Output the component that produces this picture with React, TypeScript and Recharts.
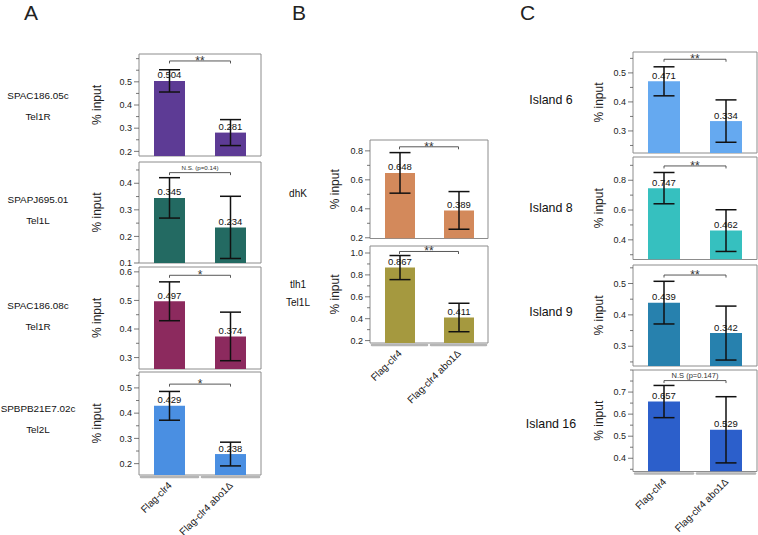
import React from "react";
import {
  BarChart,
  Bar,
  XAxis,
  YAxis,
  ErrorBar,
  LabelList,
  ReferenceLine,
  ReferenceArea,
} from "recharts";

const FONT = '"Liberation Sans", Arial, Helvetica, sans-serif';

const strains = ["Flag-clr4", "Flag-clr4 abo1Δ"];

// panel A - subtelomeric loci
const lociA = [["SPAC186.05c", "Tel1R"], ["SPAPJ695.01", "Tel1L"], ["SPAC186.08c", "Tel1R"], ["SPBPB21E7.02c", "Tel2L"]];
const meansA = [[0.504, 0.281], [0.345, 0.234], [0.497, 0.374], [0.429, 0.238]];
const errsA = [[0.048, 0.056], [0.076, 0.117], [0.068, 0.085], [0.057, 0.047]];
const sigA = ["**", "N.S. (p=0.14)", "*", "*"];
const levelsA = [0.59, 0.44, 0.588, 0.515];
const colorsA = ["#5d3b95", "#236a62", "#8c2a5e", "#4a8fe2"];
const domainsA = [[0.18, 0.62], [0.1, 0.48], [0.26, 0.617], [0.155, 0.563]];
const ticksA = [[0.2, 0.3, 0.4, 0.5], [0.1, 0.2, 0.3, 0.4], [0.3, 0.4, 0.5, 0.6], [0.2, 0.3, 0.4, 0.5]];

// panel B
const lociB = [["dhK"], ["tlh1", "Tel1L"]];
const meansB = [[0.648, 0.389], [0.867, 0.411]];
const errsB = [[0.14, 0.13], [0.11, 0.13]];
const sigB = ["**", "**"];
const levelsB = [0.828, 1.014];
const colorsB = ["#d3895b", "#a5993f"];
const domainsB = [[0.195, 0.875], [0.178, 1.064]];
const ticksB = [[0.2, 0.4, 0.6, 0.8], [0.2, 0.4, 0.6, 0.8, 1.0]];

// panel C - heterochromatin islands
const lociC = [["Island 6"], ["Island 8"], ["Island 9"], ["Island 16"]];
const meansC = [[0.471, 0.334], [0.747, 0.462], [0.439, 0.342], [0.657, 0.529]];
const errsC = [[0.05, 0.073], [0.105, 0.14], [0.068, 0.086], [0.073, 0.15]];
const sigC = ["**", "**", "**", "N.S (p=0.147)"];
const levelsC = [0.547, 0.896, 0.527, 0.752];
const colorsC = ["#65a9f0", "#36c0bf", "#2781ae", "#2c5fcb"];
const domainsC = [[0.224, 0.572], [0.268, 0.956], [0.237, 0.559], [0.34, 0.8]];
const ticksC = [[0.3, 0.4, 0.5], [0.4, 0.6, 0.8], [0.3, 0.4, 0.5], [0.4, 0.5, 0.6, 0.7]];

type Panel = {
  left: number;
  yW: number;
  plotW: number;
  tops: number[];
  heights: number[];
  labelX: number;
  titleX: number;
  rowFont: number;
  pairDy: number[];
  singleDy: number;
  rowShift: number[];
  barSize: number;
  sigFont: number;
  xH: number;
};

const panelA: Panel = { left: 0, yW: 139, plotW: 122, tops: [54, 162, 267, 372], heights: [102, 101, 102, 103], labelX: 38, titleX: 96.5, rowFont: 9.9, pairDy: [-10.5, 10.5], singleDy: 0, rowShift: [1, -2.5, -2, -4.5], barSize: 31, sigFont: 6.2, xH: 60 };
const panelB: Panel = { left: 280, yW: 90, plotW: 118, tops: [139.5, 245.5], heights: [98.5, 97], labelX: 18, titleX: 55, rowFont: 10, pairDy: [-10.5, 8], singleDy: 4, rowShift: [0, 0], barSize: 30, sigFont: 6.5, xH: 70 };
const panelC: Panel = { left: 520, yW: 113, plotW: 124, tops: [52, 157, 265, 370], heights: [101, 102.5, 101, 101.5], labelX: 31, titleX: 79, rowFont: 12.4, pairDy: [-10, 10], singleDy: 0, rowShift: [-3, 0, -4, 3], barSize: 32, sigFont: 7.5, xH: 62 };

function minorTicks(majors: number[], domain: number[]) {
  const step = majors.length > 1 ? majors[1] - majors[0] : 0.1;
  const out: number[] = [];
  for (let v = majors[0] - step * 2; v <= domain[1] + 1e-9; v += step / 2) {
    const r = Math.round(v * 1000) / 1000;
    if (r >= domain[0] - 1e-9 && r <= domain[1] + 1e-9) out.push(r);
  }
  return out;
}

const yTick = (majors: number[]) => (props: any) => {
  const { x, y, payload } = props;
  const v = payload.value;
  const major = majors.some((m) => Math.abs(m - v) < 1e-6);
  return (
    <g>
      <line x1={x - (major ? 5 : 3)} x2={x} y1={y} y2={y} stroke="#555" strokeWidth={0.8} />
      {major && (
        <text x={x - 7} y={y} dy="0.35em" textAnchor="end" fontSize={9} fill="#222" fontFamily={FONT}>
          {v.toFixed(1)}
        </text>
      )}
    </g>
  );
};

const strainTick = (bw: number) => (props: any) => {
  const { x, y, payload } = props;
  const tx = x + 3;
  const ty = y + 11;
  return (
    <g>
      <line x1={x - bw / 2 + 2} x2={x + bw / 2 - 2} y1={y + 2} y2={y + 2} stroke="#b5b5b5" strokeWidth={2.5} strokeLinecap="round" />
      <text x={tx} y={ty} transform={`rotate(-45 ${tx} ${ty})`} textAnchor="end" fontSize={10} fill="#222" fontFamily={FONT}>
        {payload.value}
      </text>
    </g>
  );
};

const sideTitle = (p: Panel, lines: string[], shift: number) => (props: any) => {
  const vb = props.viewBox || {};
  const cy = vb.y + vb.height / 2;
  const tx = vb.x + p.titleX;
  const dys = lines.length > 1 ? p.pairDy : [p.singleDy];
  return (
    <g fontFamily={FONT}>
      <text x={tx} y={cy} transform={`rotate(-90 ${tx} ${cy})`} textAnchor="middle" dominantBaseline="central" fontSize={12} fill="#222">
        % input
      </text>
      {lines.map((t, i) => (
        <text key={t} x={vb.x + p.labelX} y={cy + shift + dys[i]} textAnchor="middle" dominantBaseline="central" fontSize={p.rowFont} fill="#111">
          {t}
        </text>
      ))}
    </g>
  );
};

const bracket = (sig: string, small: number) => (props: any) => {
  const { x1, x2, y1 } = props;
  const stars = sig.startsWith("*");
  return (
    <g>
      <path d={`M${x1},${y1 + 2.5}V${y1}H${x2}V${y1 + 2.5}`} fill="none" stroke="#444" strokeWidth={0.9} />
      <text x={(x1 + x2) / 2} y={stars ? y1 + 4 : y1 - 2.5} textAnchor="middle" fontSize={stars ? 12 : small} fill="#333" fontFamily={FONT}>
        {sig}
      </text>
    </g>
  );
};

const valueLabel = (props: any) => {
  const { x, y, width, value } = props;
  return (
    <text x={x + width / 2} y={y - 2.5} textAnchor="middle" fontSize={9.5} fill="#111" fontFamily={FONT}>
      {Number(value).toFixed(3)}
    </text>
  );
};

function Row({ p, i, means, errs, color, domain, majors, level, sig, lines, last }: any) {
  const data = strains.map((s, k) => ({ strain: s, mean: means[k], err: errs[k] }));
  const mt = 6;
  const mb = 6;
  const plotH = p.heights[i];
  const height = mt + plotH + (last ? p.xH : mb);
  const ticks = minorTicks(majors, domain);
  return (
    <div style={{ position: "absolute", left: p.left, top: p.tops[i] - mt }}>
      <BarChart
        width={p.yW + p.plotW + 2}
        height={height}
        data={data}
        margin={{ top: mt, right: 2, bottom: last ? 0 : mb, left: 0 }}
        barSize={p.barSize}
      >
        <XAxis
          dataKey="strain"
          hide={!last}
          height={p.xH}
          tickSize={0}
          tickMargin={0}
          axisLine={false}
          tickLine={false}
          interval={0}
          tick={strainTick(p.plotW / 2)}
        />
        <YAxis
          type="number"
          domain={domain}
          allowDataOverflow
          ticks={ticks}
          interval={0}
          width={p.yW}
          tickSize={0}
          tickMargin={0}
          axisLine={false}
          tickLine={false}
          tick={yTick(majors)}
          label={sideTitle(p, lines, p.rowShift[i])}
        />
        <Bar dataKey="mean" fill={color} isAnimationActive={false}>
          <ErrorBar dataKey="err" width={10.5} strokeWidth={1.5} stroke="#111" direction="y" isAnimationActive={false} />
          <LabelList dataKey="mean" content={valueLabel} />
        </Bar>
        <ReferenceArea y1={domain[0]} y2={domain[1]} fill="none" stroke="#8c8c8c" strokeWidth={1} ifOverflow="visible" />
        <ReferenceLine
          segment={[{ x: strains[0], y: level }, { x: strains[1], y: level }]}
          ifOverflow="visible"
          shape={bracket(sig, p.sigFont)}
        />
      </BarChart>
    </div>
  );
}

function PanelRows({ p, loci, means, errs, colors, domains, ticks, levels, sigs }: any) {
  return (
    <>
      {loci.map((lines: string[], i: number) => (
        <Row
          key={i}
          p={p}
          i={i}
          means={means[i]}
          errs={errs[i]}
          color={colors[i]}
          domain={domains[i]}
          majors={ticks[i]}
          level={levels[i]}
          sig={sigs[i]}
          lines={lines}
          last={i === loci.length - 1}
        />
      ))}
    </>
  );
}

const letterStyle: React.CSSProperties = {
  position: "absolute",
  top: 2,
  fontSize: 21,
  lineHeight: "21px",
  fontFamily: FONT,
  color: "#222",
};

export default function App() {
  return (
    <div style={{ position: "absolute", left: 0, top: 0, width: 758, height: 535, background: "#fff", overflow: "hidden" }}>
      <div style={{ ...letterStyle, left: 24 }}>A</div>
      <div style={{ ...letterStyle, left: 292 }}>B</div>
      <div style={{ ...letterStyle, left: 520 }}>C</div>
      <PanelRows p={panelA} loci={lociA} means={meansA} errs={errsA} colors={colorsA} domains={domainsA} ticks={ticksA} levels={levelsA} sigs={sigA} />
      <PanelRows p={panelB} loci={lociB} means={meansB} errs={errsB} colors={colorsB} domains={domainsB} ticks={ticksB} levels={levelsB} sigs={sigB} />
      <PanelRows p={panelC} loci={lociC} means={meansC} errs={errsC} colors={colorsC} domains={domainsC} ticks={ticksC} levels={levelsC} sigs={sigC} />
    </div>
  );
}
